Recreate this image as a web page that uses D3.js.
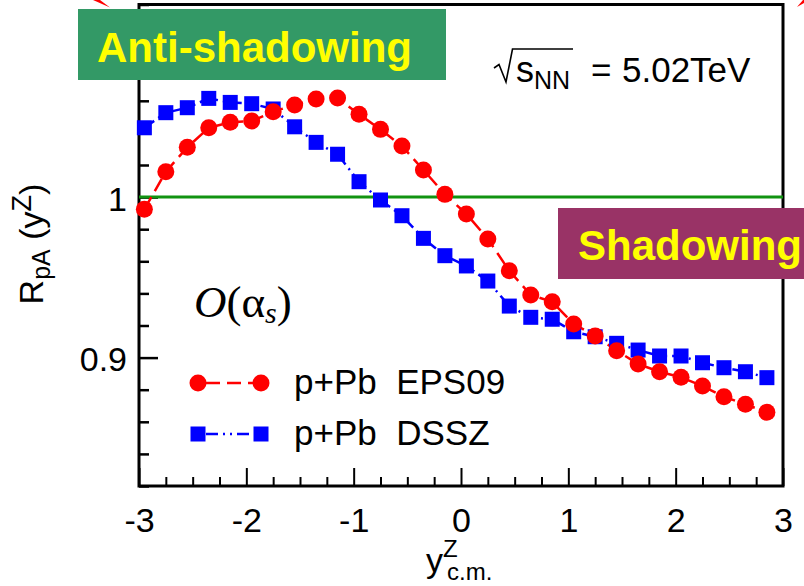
<!DOCTYPE html>
<html>
<head>
<meta charset="utf-8">
<script src="https://cdn.jsdelivr.net/npm/d3@7"></script>
<style>
  html, body { margin: 0; padding: 0; background: #fff; }
  svg { display: block; }
  text { font-family: "Liberation Sans", Arial, Helvetica, sans-serif; white-space: pre; }
  text.serif { font-family: "Liberation Serif", "Times New Roman", serif; }
</style>
</head>
<body>
<svg id="chart" width="804" height="586"></svg>
<script>
// Rapidity bins (centre of mass frame)
const rapidity = [-2.95, -2.75, -2.55, -2.35, -2.15, -1.95, -1.75, -1.55, -1.35, -1.15,
                  -0.95, -0.75, -0.55, -0.35, -0.15, 0.05, 0.25, 0.45, 0.65, 0.85,
                  1.05, 1.25, 1.45, 1.65, 1.85, 2.05, 2.25, 2.45, 2.65, 2.85];

// Nuclear modification factor R_pA for Z production, p+Pb at 5.02 TeV
const eps09 = [0.9924, 1.0158, 1.0310, 1.0432, 1.0466, 1.0474, 1.0532, 1.0574, 1.0611, 1.0617,
               1.0516, 1.0422, 1.0318, 1.0169, 1.0017, 0.9895, 0.9739, 0.9541, 0.9390, 0.9348,
               0.9209, 0.9135, 0.9043, 0.8960, 0.8912, 0.8877, 0.8823, 0.8756, 0.8709, 0.8659];

const dssz = [1.0432, 1.0526, 1.0557, 1.0615, 1.0590, 1.0582, 1.0549, 1.0438, 1.0341, 1.0267,
              1.0096, 0.9982, 0.9884, 0.9743, 0.9635, 0.9571, 0.9477, 0.9321, 0.9251, 0.9239,
              0.9161, 0.9130, 0.9089, 0.9047, 0.9010, 0.9010, 0.8968, 0.8937, 0.8912, 0.8875];

const xMajorTicks = [-3, -2, -1, 0, 1, 2, 3];
const xTickLabels = ["-3", "-2", "-1", "0", "1", "2", "3"];
const yMajorTicks = [0.9, 1.0, 1.1];
const yTickLabels = ["0.9", "1", ""];
const legendLabels = ["p+Pb  EPS09", "p+Pb  DSSZ"];

const svg = d3.select("#chart");
const plotL = 139, plotR = 783, plotT = 4.5, plotB = 486;

const x = d3.scaleLinear().domain([-3, 3]).range([plotL, plotR]);
const y = d3.scaleLinear().domain([0.82, 1.12]).range([plotB, plotT]);

const RED = "#ff0000", BLUE = "#0000ff";

// ---- axes ----
const xMinor = d3.range(-3, 3.001, 0.25).filter(v => Math.abs(v - Math.round(v)) > 1e-6);
const yMinor = d3.range(0.82, 1.1201, 0.02).filter(v => Math.abs(v * 10 - Math.round(v * 10)) > 1e-6);

svg.append("g").attr("transform", `translate(0,${plotB})`)
  .call(d3.axisBottom(x).tickValues(xMinor).tickSize(-9).tickFormat(""))
  .call(g => g.select(".domain").remove())
  .call(g => g.selectAll("line").attr("stroke", "#000").attr("stroke-width", 2));

svg.append("g").attr("transform", `translate(0,${plotB})`)
  .call(d3.axisBottom(x).tickValues(xMajorTicks).tickSize(-18).tickPadding(22)
        .tickFormat((d, i) => xTickLabels[i]))
  .call(g => g.select(".domain").remove())
  .call(g => g.selectAll("line").attr("stroke", "#000").attr("stroke-width", 2))
  .call(g => g.selectAll("text").attr("fill", "#000").attr("font-size", 34));

svg.append("g").attr("transform", `translate(${plotL},0)`)
  .call(d3.axisLeft(y).tickValues(yMinor).tickSize(-10).tickFormat(""))
  .call(g => g.select(".domain").remove())
  .call(g => g.selectAll("line").attr("stroke", "#000").attr("stroke-width", 2.5));

svg.append("g").attr("transform", `translate(${plotL},0)`)
  .call(d3.axisLeft(y).tickValues(yMajorTicks).tickSize(-19).tickPadding(12)
        .tickFormat((d, i) => yTickLabels[i]))
  .call(g => g.select(".domain").remove())
  .call(g => g.selectAll("line").attr("stroke", "#000").attr("stroke-width", 2.5))
  .call(g => g.selectAll("text").attr("fill", "#000").attr("font-size", 34).attr("dy", "0.38em"));

// frame
svg.append("rect")
  .attr("x", plotL).attr("y", plotT).attr("width", plotR - plotL).attr("height", plotB - plotT)
  .attr("fill", "none").attr("stroke", "#000").attr("stroke-width", 3);

// unity reference line
svg.append("line")
  .attr("x1", x(-3)).attr("x2", x(3)).attr("y1", y(1)).attr("y2", y(1))
  .attr("stroke", "#119311").attr("stroke-width", 3);

// ---- series ----
const line = d3.line().x(d => x(d[0])).y(d => y(d[1]));
const epsPts = rapidity.map((r, i) => [r, eps09[i]]);
const dsszPts = rapidity.map((r, i) => [r, dssz[i]]);

svg.append("path").datum(epsPts).attr("d", line)
  .attr("fill", "none").attr("stroke", RED).attr("stroke-width", 2.5)
  .attr("stroke-dasharray", "14,7");
svg.append("path").datum(dsszPts).attr("d", line)
  .attr("fill", "none").attr("stroke", BLUE).attr("stroke-width", 2.5)
  .attr("stroke-dasharray", "12,5,2,5,2,5");

svg.append("g").selectAll("rect").data(dsszPts).join("rect")
  .attr("x", d => x(d[0]) - 7.5).attr("y", d => y(d[1]) - 7.5)
  .attr("width", 15).attr("height", 15).attr("fill", BLUE);

svg.append("g").selectAll("circle").data(epsPts).join("circle")
  .attr("cx", d => x(d[0])).attr("cy", d => y(d[1])).attr("r", 8.5).attr("fill", RED);

// ---- axis titles ----
const yTitle = svg.append("text").attr("transform", "translate(43,244) rotate(-90)")
  .attr("text-anchor", "middle").attr("font-size", 34).attr("fill", "#000");
yTitle.append("tspan").text("R");
yTitle.append("tspan").attr("font-size", 25).attr("dy", 7).text("pA");
yTitle.append("tspan").attr("dy", -7).text(" (y");
yTitle.append("tspan").attr("font-size", 27).attr("dy", -12).text("Z");
yTitle.append("tspan").attr("dy", 12).text(")");

const xTitle = svg.append("text").attr("x", 426).attr("y", 572)
  .attr("font-size", 34).attr("fill", "#000");
xTitle.append("tspan").text("y");
xTitle.append("tspan").attr("font-size", 24).attr("dy", -15).text("Z");
xTitle.append("tspan").attr("font-size", 24).attr("x", 447).attr("dy", 23).text("c.m.");

// ---- energy label ----
svg.append("path").attr("d", "M494,68 L499,64.5 L506,82 L512.5,49 L573,49")
  .attr("fill", "none").attr("stroke", "#000").attr("stroke-width", 1.6);
const sLab = svg.append("text").attr("x", 516).attr("y", 82).attr("font-size", 36).attr("fill", "#000");
sLab.append("tspan").text("s");
sLab.append("tspan").attr("font-size", 25).attr("dy", 7).text("NN");
svg.append("text").attr("x", 591).attr("y", 82).attr("font-size", 35).attr("fill", "#000").text("=");
svg.append("text").attr("x", 622).attr("y", 82).attr("font-size", 35).attr("fill", "#000").text("5.02TeV");

// ---- perturbative order ----
const ord = svg.append("text").attr("class", "serif").attr("x", 194).attr("y", 317)
  .attr("font-size", 45).attr("fill", "#000");
ord.append("tspan").attr("font-style", "italic").text("O");
ord.append("tspan").text("(α");
ord.append("tspan").attr("font-style", "italic").attr("font-size", 30).attr("dy", 6).text("s");
ord.append("tspan").attr("dy", -6).text(")");

// ---- legend ----
const legendRows = [
  { y: 383, color: RED, dash: "14,7", shape: "circle" },
  { y: 434, color: BLUE, dash: "12,5,2,5,2,5", shape: "square" }
];
legendRows.forEach((row, i) => {
  const g = svg.append("g");
  g.append("line").attr("x1", 198).attr("x2", 261).attr("y1", row.y).attr("y2", row.y)
    .attr("stroke", row.color).attr("stroke-width", 2.5).attr("stroke-dasharray", row.dash)
    .attr("stroke-dashoffset", -8);
  [198, 261].forEach(cx => {
    if (row.shape === "circle") {
      g.append("circle").attr("cx", cx).attr("cy", row.y).attr("r", 8.5).attr("fill", row.color);
    } else {
      g.append("rect").attr("x", cx - 7.5).attr("y", row.y - 7.5).attr("width", 15).attr("height", 15)
        .attr("fill", row.color);
    }
  });
  g.append("text").attr("x", 294).attr("y", row.y + 11).attr("font-size", 35).attr("fill", "#000")
    .text(legendLabels[i]);
});

// ---- region banners ----
svg.append("rect").attr("x", 78).attr("y", 9).attr("width", 368).attr("height", 71).attr("fill", "#339966");
svg.append("text").attr("x", 97).attr("y", 62).attr("font-size", 42).attr("font-weight", "bold")
  .attr("fill", "#ffff00").text("Anti-shadowing");

svg.append("rect").attr("x", 558).attr("y", 208).attr("width", 246).attr("height", 71).attr("fill", "#993366");
svg.append("text").attr("x", 578).attr("y", 260).attr("font-size", 42).attr("font-weight", "bold")
  .attr("fill", "#ffff00").text("Shadowing");

// arrow tips entering from above
svg.append("path").attr("d", "M93,0 L100,0 L110,7.5 Z").attr("fill", RED);
svg.append("path").attr("d", "M797,7 L803,0 L804,0 L804,3 Z").attr("fill", RED);
</script>
</body>
</html>
